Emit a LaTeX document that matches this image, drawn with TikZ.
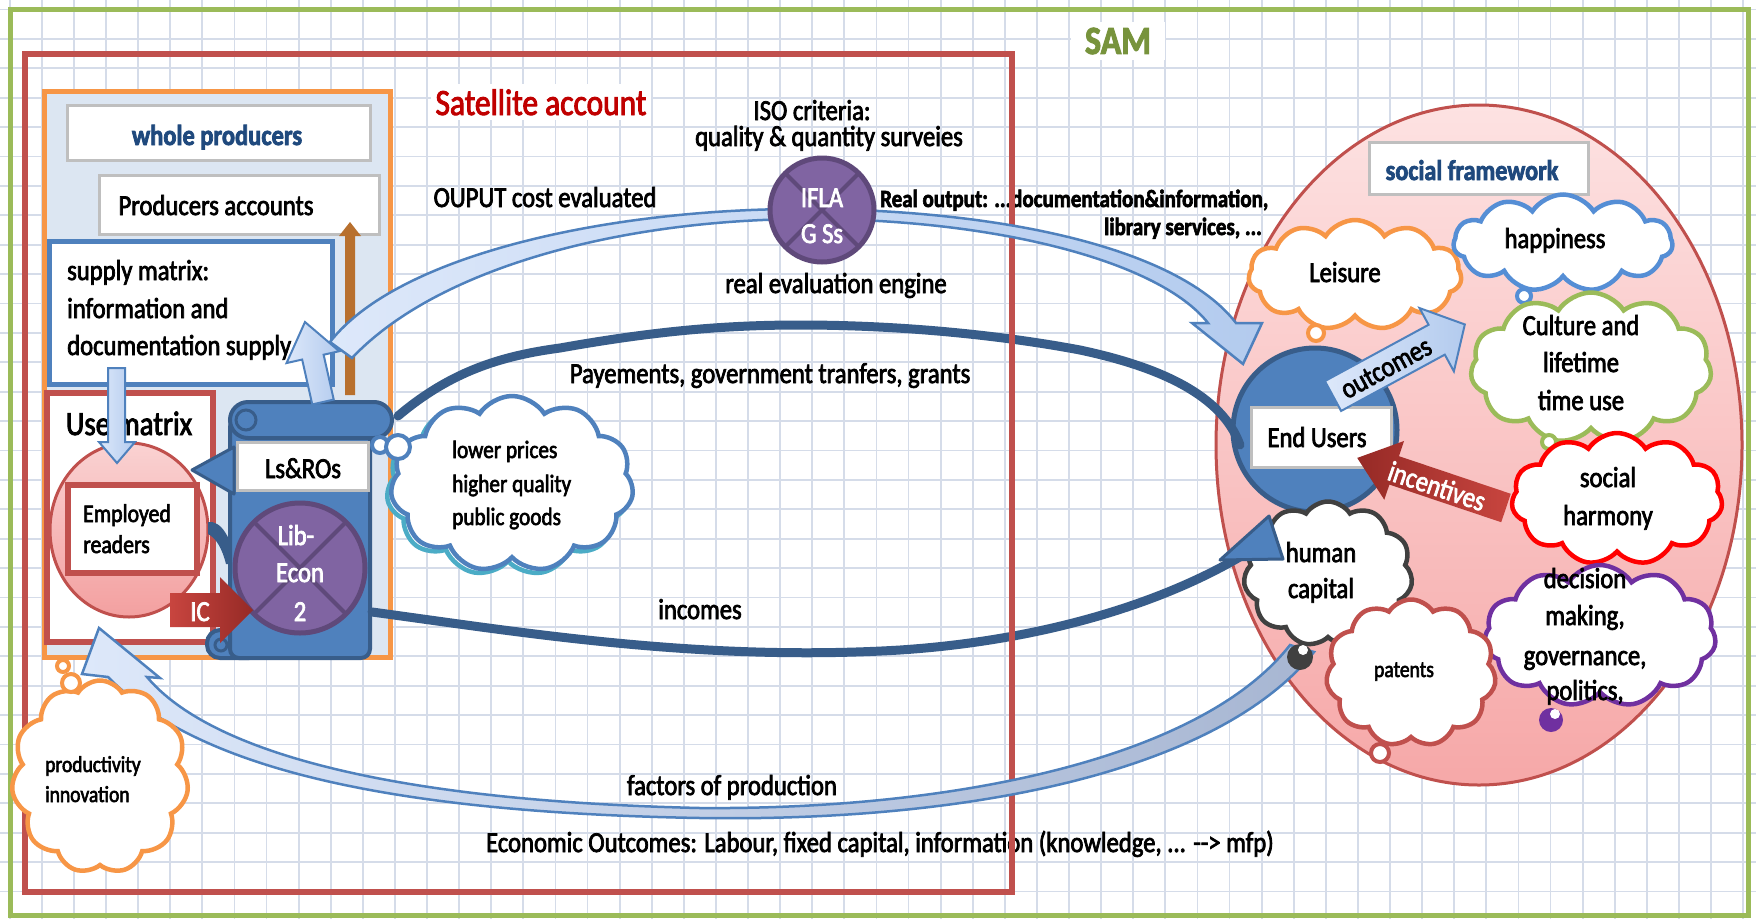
\documentclass[tikz,border=0pt]{standalone}
\usepackage{fontspec}
\setmainfont{Carlito}[FakeStretch=0.85, FakeBold=2.5]
\usetikzlibrary{shapes.symbols}

\definecolor{gridline}{HTML}{D5DCE9}
\definecolor{samgreen}{HTML}{9BBB59}
\definecolor{samtext}{HTML}{77933C}
\definecolor{satred}{HTML}{C0504D}
\definecolor{sattext}{HTML}{C00000}
\definecolor{panelorange}{HTML}{F79646}
\definecolor{panelfill}{HTML}{DCE6F2}
\definecolor{boxgray}{HTML}{BFBFBF}
\definecolor{navy}{HTML}{1F497D}
\definecolor{accblue}{HTML}{4F81BD}
\definecolor{darkblue}{HTML}{385D8A}
\definecolor{palblue}{HTML}{DDE8FA}
\definecolor{midblue}{HTML}{B3CBEE}
\definecolor{purp}{HTML}{8064A2}
\definecolor{darkpurp}{HTML}{5F497A}
\definecolor{brownarrow}{HTML}{B8702E}
\definecolor{pinktop}{HTML}{FDE2E2}
\definecolor{pinkbot}{HTML}{F6A8A8}
\definecolor{pinklt}{HTML}{FAD2D2}
\definecolor{pinkdk}{HTML}{F3A0A0}
\definecolor{icred}{HTML}{C8453F}
\definecolor{icdark}{HTML}{962A26}
\definecolor{leisurec}{HTML}{F79646}
\definecolor{happyc}{HTML}{558ED5}
\definecolor{culturec}{HTML}{9BBB59}
\definecolor{harmonyc}{HTML}{FF0000}
\definecolor{decisionc}{HTML}{7030A0}
\definecolor{humanc}{HTML}{404040}
\definecolor{tealshadow}{HTML}{4BACC6}
\definecolor{bandgray}{HTML}{A7B6D2}

\tikzset{
  lbl/.style={inner sep=0pt, font=\fontsize{29}{34}\selectfont},
  lblb/.style={inner sep=0pt, font=\bfseries\fontsize{24.7}{30}\selectfont},
  whitebox/.style={draw=boxgray, fill=white, line width=3, inner sep=0pt},
  cloudbox/.style={cloud, cloud puffs=11, cloud puff arc=115, cloud ignores aspect,
    fill=white, line width=4.5, inner sep=0pt},
  bubble/.style={fill=white, line width=4},
  lightarrow/.style={left color=palblue, right color=midblue, draw=accblue, line width=2.5},
  strand/.style={darkblue, line width=9, line cap=round},
  purpdisc/.style={fill=purp, draw=darkpurp, line width=5},
}

\begin{document}
\begin{tikzpicture}[x=1pt, y=-1pt]
% page and squared paper
\fill[white] (0,0) rectangle (1756,919);
\useasboundingbox (0,0) rectangle (1756,919);
\foreach \i in {0,...,54} \draw[gridline, line width=1.8] ({9.7+32.1*\i},0) -- ({9.7+32.1*\i},919);
\foreach \j in {0,...,31} \draw[gridline, line width=1.8] (0,{9.5+29.4*\j}) -- (1756,{9.5+29.4*\j});

% SAM frame
\draw[samgreen, line width=5] (10,9) rectangle (1748,915);
\node[fill=white, inner xsep=14, inner ysep=6, text=samtext, font=\bfseries\fontsize{40}{40}\selectfont] (sam) at (1118,41) {SAM};

% labels of the flows
\node[lbl, anchor=base] (iso) at (812,120) {ISO criteria:};
\node[lbl, anchor=base] (surv) at (829,146) {quality \& quantity surveies};
\node[lbl, anchor=base] (ouput) at (545,207) {OUPUT cost evaluated};
\node[lblb, anchor=base west] (realout) at (880,207) {Real output: ...documentation\&information,};
\node[lblb, anchor=base east] (libserv) at (1262,235) {library services, ...};
\node[lbl, anchor=base] (engine) at (836,293) {real evaluation engine};
\node[lbl, anchor=base] (pay) at (770,383) {Payements, government tranfers, grants};
\node[lbl, anchor=base] (inc) at (700,619) {incomes};
\node[lbl, anchor=base] (fop) at (732,795) {factors of production};
\node[lbl, anchor=base] (econ) at (880,852) {Economic Outcomes: Labour, fixed capital, information (knowledge, ... -{}-{}> mfp)};

% satellite account frame
\draw[satred, line width=5.5] (25,54) rectangle (1012,892);
\node[fill=white, inner sep=5, text=sattext, font=\fontsize{37}{37}\selectfont, anchor=base] (sat) at (541,115) {Satellite account};

% producers panel
\draw[panelorange, fill=panelfill, line width=5] (44,91) rectangle (390,657);
\node[whitebox, minimum width=303, minimum height=55] (whole) at (218.5,132.5) {};
\node[anchor=base, inner sep=0pt, text=navy, font=\bfseries\fontsize{28.8}{30}\selectfont] (wholet) at (217,145) {whole producers};
\node[whitebox, minimum width=280, minimum height=59] (pacc) at (239,204.5) {};
\node[lbl, anchor=base] (pacct) at (216,215) {Producers accounts};
\node[draw=accblue, fill=white, line width=5, minimum width=283, minimum height=143, inner sep=0pt] (supply) at (190.5,312.5) {};
\node[lbl, anchor=base west] (sup1) at (67,280) {supply matrix:};
\node[lbl, anchor=base west] (sup2) at (67,318) {information and};
\node[lbl, anchor=base west] (sup3) at (67,355) {documentation supply};
\fill[brownarrow] (345,395) -- (345,236) -- (339,236) -- (350,222) -- (361,236) -- (355,236) -- (355,395) -- cycle;

% use matrix
\node[draw=satred, fill=white, line width=5.5, minimum width=166, minimum height=249, inner sep=0pt] (usebox) at (130,517.5) {};
\node[anchor=base, inner sep=0pt, font=\fontsize{34}{34}\selectfont] (uset) at (129,435) {Use matrix};
\draw[draw=satred, line width=3, top color=pinklt, bottom color=pinkdk] (129,530) ellipse [x radius=79, y radius=87];
\node[draw=satred, fill=white, line width=6, minimum width=129, minimum height=88, inner sep=0pt] (empbox) at (132.5,529) {};
\node[anchor=base west, inner sep=0pt, font=\fontsize{25.6}{30}\selectfont] (emp1) at (83,522) {Employed};
\node[anchor=base west, inner sep=0pt, font=\fontsize{25.6}{30}\selectfont] (emp2) at (83,553) {readers};
\draw[lightarrow, line width=2] (108,368) -- (125,368) -- (125,442) -- (135,442) -- (117,463) -- (99,442) -- (108,442) -- cycle;

% library scroll
\fill[darkblue] (208,522) .. controls (222,520) and (232,540) .. (236,564) -- (226,564) .. controls (222,548) and (216,538) .. (208,534) -- cycle;
\draw[fill=accblue, draw=darkblue, line width=4, rounded corners=13] (207,630) rectangle (262,658);
\draw[fill=accblue, draw=darkblue, line width=4, rounded corners=9] (230,418) rectangle (370,658);
\draw[darkblue, line width=3] (221,645) circle (6);
\draw[fill=accblue, draw=darkblue, line width=4, rounded corners=18] (230,402) rectangle (392,438);
\draw[fill=accblue, draw=darkblue, line width=3] (246,420) circle (10);
\draw[fill=accblue, draw=darkblue, line width=3, line join=round] (192,470) -- (234,447) -- (234,494) -- cycle;
\node[whitebox, minimum width=131, minimum height=48] (lsro) at (302.5,466) {};
\node[lbl, anchor=base] (lsrot) at (303,478) {Ls\&ROs};
\draw[purpdisc] (300,568) circle (65);
\draw[darkpurp, line width=4] (254,522) -- (346,614) (254,614) -- (346,522);
\node[lbl, anchor=base, text=white] (lib1) at (296,545) {Lib-};
\node[lbl, anchor=base, text=white] (lib2) at (300,582) {Econ};
\node[lbl, anchor=base, text=white] (lib3) at (300,621) {2};
\shade[left color=icred, right color=icdark] (170,593) -- (220,593) -- (220,577) -- (253,610) -- (220,643) -- (220,627) -- (170,627) -- cycle;
\node[lbl, anchor=base, text=white] (ic) at (200,621) {IC};

% outcome cloud beside the scroll
\node[cloudbox, draw=tealshadow, minimum width=243, minimum height=176] (lpshadow) at (508,488) {};
\node[cloudbox, draw=accblue, minimum width=243, minimum height=176] (lowp) at (512,484) {};
\draw[bubble, draw=accblue] (380,445) circle (8);
\draw[bubble, draw=accblue] (398,447) circle (12);
\node[anchor=base west, inner sep=0pt, font=\fontsize{25}{30}\selectfont] (lp1) at (452,458) {lower prices};
\node[anchor=base west, inner sep=0pt, font=\fontsize{25}{30}\selectfont] (lp2) at (452,492) {higher quality};
\node[anchor=base west, inner sep=0pt, font=\fontsize{25}{30}\selectfont] (lp3) at (452,525) {public goods};

% social framework
\draw[satred, line width=3, top color=pinktop, bottom color=pinkbot] (1479,445) ellipse [x radius=263, y radius=340];
\node[whitebox, minimum width=219, minimum height=52] (sfw) at (1478.5,168) {};
\node[anchor=base, inner sep=0pt, text=navy, font=\bfseries\fontsize{28.5}{30}\selectfont] (sfwt) at (1472,180) {social framework};

\node[cloudbox, draw=leisurec, minimum width=213, minimum height=110] (leis) at (1355,275) {};
\draw[bubble, draw=leisurec] (1316,333) circle (8);
\node[lbl, anchor=base] (leist) at (1345,282) {Leisure};
\node[cloudbox, draw=happyc, minimum width=219, minimum height=97] (happy) at (1563,243) {};
\draw[bubble, draw=happyc] (1524,296) circle (7);
\node[lbl, anchor=base] (happyt) at (1555,248) {happiness};
\node[cloudbox, draw=culturec, minimum width=241, minimum height=151] (cult) at (1591,368) {};
\draw[bubble, draw=culturec] (1549,442) circle (7);
\node[lbl, anchor=base] (cult1) at (1581,335) {Culture and};
\node[lbl, anchor=base] (cult2) at (1581,372) {lifetime};
\node[lbl, anchor=base] (cult3) at (1581,410) {time use};
\node[cloudbox, draw=harmonyc, minimum width=211, minimum height=132] (harm) at (1617,499) {};
\node[lbl, anchor=base] (harm1) at (1608,487) {social};
\node[lbl, anchor=base] (harm2) at (1608,525) {harmony};
\node[cloudbox, draw=decisionc, minimum width=232, minimum height=142] (deci) at (1600,636) {};
\fill[decisionc] (1551,720) circle (12);
\fill[white] (1555,714) circle (5);
\node[lbl, anchor=base] (deci1) at (1585,588) {decision};
\node[lbl, anchor=base] (deci2) at (1585,625) {making,};
\node[lbl, anchor=base] (deci3) at (1585,665) {governance,};
\node[lbl, anchor=base] (deci4) at (1585,700) {politics,};

% end users
\draw[fill=accblue, draw=darkblue, line width=5] (1315,430) circle (82);

% money flows between producers and users
\draw[strand] (398,416) .. controls (450,372) and (500,356) .. (560,348) .. controls (650,332) and (720,325) .. (800,325) .. controls (900,325) and (1000,335) .. (1080,350) .. controls (1160,367) and (1222,395) .. (1240,445);
\draw[strand] (372,612) .. controls (520,632) and (700,662) .. (900,650) .. controls (1050,640) and (1170,600) .. (1248,552);
\draw[satred, line width=5.5] (1012,54) -- (1012,892);

\node[whitebox, minimum width=140, minimum height=60] (eub) at (1321,437) {};
\node[lbl, anchor=base] (eubt) at (1317,447) {End Users};

\node[cloudbox, draw=humanc, minimum width=169, minimum height=145] (hcap) at (1328,574) {};
\node[lbl, anchor=base] (hcap1) at (1321,562) {human};
\node[lbl, anchor=base] (hcap2) at (1321,598) {capital};
\node[cloudbox, draw=satred, minimum width=170, minimum height=147] (pat) at (1411,673) {};
\draw[bubble, draw=satred] (1380,753) circle (9);
\node[anchor=base, inner sep=0pt, font=\fontsize{23}{28}\selectfont] (patt) at (1404,677) {patents};

\draw[fill=accblue, draw=darkblue, line width=3, line join=round] (1220,560) -- (1269,516) -- (1283,559) -- cycle;

% outcomes and incentives
\begin{scope}[shift={(1333,396)}, rotate=28.5]
  \draw[lightarrow, line width=2] (0,-17) -- (118,-17) -- (118,-36) -- (150,0) -- (118,36) -- (118,17) -- (0,17) -- cycle;
\end{scope}
\node[lbl, rotate=28.5, text=black] (outc) at (1386,368) {outcomes};
\begin{scope}[shift={(1506,508)}, rotate=161.4]
  \shade[left color=icdark, right color=icred] (0,-15) -- (118,-15) -- (118,-31) -- (157,0) -- (118,31) -- (118,15) -- (0,15) -- cycle;
\end{scope}
\node[lbl, rotate=-18.6, text=white] (incent) at (1437,486) {incentives};

% evaluated output flow
\draw[lightarrow] (330,342) .. controls (400,252) and (620,207) .. (815,209) .. controls (1010,211) and (1180,250) .. (1236,323) -- (1262,323) -- (1243,364) -- (1192,323) -- (1208,323) .. controls (1160,262) and (1000,220) .. (815,219) .. controls (630,218) and (440,265) .. (352,358) -- cycle;
\begin{scope}[shift={(323,402)}, rotate=102.7]
  \draw[lightarrow, line width=2] (0,-11) -- (46,-11) -- (46,-27) -- (82,0) -- (46,27) -- (46,11) -- (0,11) -- cycle;
\end{scope}
\draw[purpdisc] (822,210) circle (52);
\draw[darkpurp, line width=4] (785,173) -- (859,247) (785,247) -- (859,173);
\node[lbl, anchor=base, text=white] (ifla1) at (822,207) {IFLA};
\node[lbl, anchor=base, text=white] (ifla2) at (822,243) {G Ss};

% factors of production flow
\draw[left color=palblue, right color=bandgray, draw=accblue, line width=2.5] (82,674) -- (99,628) -- (160,678) -- (147,677) .. controls (200,740) and (350,800) .. (700,808) .. controls (950,810) and (1200,760) .. (1290,645) -- (1314,652) .. controls (1215,775) and (960,822) .. (700,818) .. controls (360,812) and (190,760) .. (108,677) -- cycle;
\fill[humanc] (1300,657) circle (13);
\fill[white] (1303,650) circle (5);

% productivity cloud
\node[cloudbox, draw=leisurec, minimum width=177, minimum height=193] (prod) at (100,777) {};
\draw[bubble, draw=leisurec] (71,683) circle (9);
\draw[bubble, draw=leisurec] (63,666) circle (6);
\node[anchor=base west, inner sep=0pt, font=\fontsize{23}{28}\selectfont] (prod1) at (45,772) {productivity};
\node[anchor=base west, inner sep=0pt, font=\fontsize{23}{28}\selectfont] (prod2) at (45,802) {innovation};
\end{tikzpicture}
\end{document}
